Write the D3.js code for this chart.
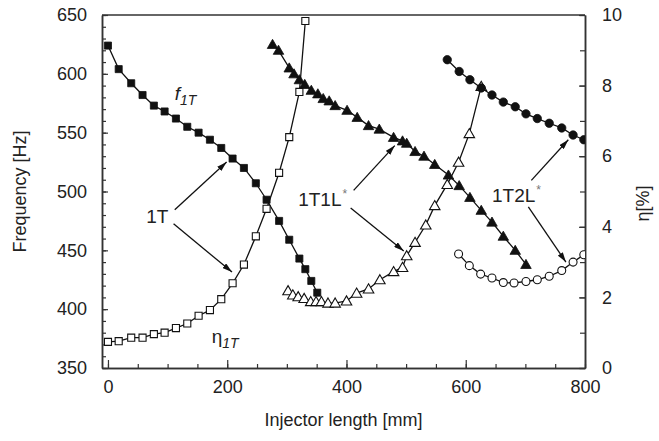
<!DOCTYPE html>
<meta charset="utf-8">
<style>
  body { margin: 0; background: #fff; }
  text { font-family: "Liberation Sans", Arial, sans-serif; fill: #222; }
</style>
<body>
<div id="my_dataviz"></div>
<script src="https://d3js.org/d3.v7.min.js"></script>
<script>

// 1T mode: frequency (filled squares) and eta (open squares)
var x1T   = [0, 18, 39, 58, 77, 95, 114, 133, 152, 171, 190, 209, 228, 248, 266, 287, 304, 321, 331, 341, 351];
var f1T   = [624, 604, 592, 582, 573, 568, 562, 555, 550, 544, 537, 528, 520, 507, 493, 475, 459, 443, 434, 424, 414];
var eta1T = [0.74, 0.76, 0.86, 0.86, 0.96, 1.0, 1.13, 1.26, 1.48, 1.64, 1.95, 2.4, 2.93, 3.73, 4.51, 5.53, 6.54, 7.82, 9.83];

// 1T1L* mode: frequency (filled triangles) and eta (open triangles)
var x1T1Lf  = [276, 286, 304, 312, 321, 330, 341, 352, 361, 371, 381, 401, 418, 437, 455, 479, 494, 501, 515, 530, 548, 571, 589, 607, 626, 644, 663, 683, 701];
var f1T1L   = [625, 620, 605, 600, 595, 591, 586, 583, 579, 577, 573, 569, 563, 556, 553, 546, 543, 541, 534, 530, 523, 514, 505, 495, 484, 474, 462, 450, 438];
var x1T1Le  = [302, 310, 319, 329, 340, 349, 358, 369, 381, 400, 417, 437, 456, 479, 494, 501, 515, 533, 548, 569, 588, 606, 626];
var eta1T1L = [2.19, 2.07, 2.02, 1.97, 1.88, 1.88, 1.88, 1.84, 1.84, 1.90, 2.12, 2.24, 2.50, 2.73, 2.85, 3.18, 3.56, 4.05, 4.60, 5.20, 5.83, 6.64, 7.98];

// 1T2L* mode: frequency (filled circles) and eta (open circles)
var x1T2Lf  = [569, 589, 607, 626, 644, 663, 683, 701, 720, 740, 761, 780, 798];
var f1T2L   = [612, 602, 595, 588, 582, 576, 572, 566, 562, 558, 554, 548, 544];
var x1T2Le  = [588, 606, 625, 644, 663, 681, 701, 720, 740, 761, 780, 798];
var eta1T2L = [3.23, 2.90, 2.66, 2.55, 2.42, 2.41, 2.45, 2.50, 2.60, 2.76, 3.00, 3.21];

// tick values
var xTicks = [0, 200, 400, 600, 800];
var fTicks = [350, 400, 450, 500, 550, 600, 650];
var eTicks = [0, 2, 4, 6, 8, 10];

// mode labels and arrows (in x / frequency units)
var modeLabels = [
  {text: "1T",   x: 64,  f: 473},
  {text: "1T1L", x: 319, f: 488, star: true},
  {text: "1T2L", x: 644, f: 491.5, star: true}
];
var arrows = [
  {x1: 112, f1: 484.5, x2: 199, f2: 525},
  {x1: 110, f1: 472.5, x2: 208, f2: 431.5},
  {x1: 412, f1: 501,   x2: 481, f2: 539},
  {x1: 407, f1: 486,   x2: 496, f2: 449.5},
  {x1: 710, f1: 509.5, x2: 772, f2: 544},
  {x1: 705, f1: 487,   x2: 768, f2: 440}
];

var margin = {top: 15, right: 74, bottom: 73, left: 102},
    width = 659 - margin.left - margin.right,
    height = 441 - margin.top - margin.bottom;

var svg = d3.select("#my_dataviz")
  .append("svg")
    .attr("width", 659)
    .attr("height", 441)
  .append("g")
    .attr("transform", "translate(" + margin.left + "," + margin.top + ")");

var x = d3.scaleLinear().domain([-10, 800]).range([0, width]);
var y = d3.scaleLinear().domain([350, 650]).range([height, 0]);
var y2 = d3.scaleLinear().domain([0, 10]).range([height, 0]);

svg.append("clipPath").attr("id", "clip")
  .append("rect").attr("width", width).attr("height", height);

// arrow head
svg.append("defs").append("marker")
    .attr("id", "head")
    .attr("viewBox", "0 0 10 6")
    .attr("refX", 10).attr("refY", 3)
    .attr("markerWidth", 10).attr("markerHeight", 6)
    .attr("markerUnits", "userSpaceOnUse")
    .attr("orient", "auto")
  .append("path")
    .attr("d", "M0,0L10,3L0,6Z")
    .attr("fill", "#111");

// axes, ticks pointing inward
function styleAxis(g) {
  g.select(".domain").attr("stroke", "#333").attr("stroke-width", 1.5);
  g.selectAll(".tick line").attr("stroke", "#333").attr("stroke-width", 1.2);
  g.selectAll("text").attr("font-size", 18).attr("fill", "#222")
    .attr("font-family", "'Liberation Sans', Arial, sans-serif");
}

// minor ticks first
svg.append("g")
  .attr("transform", "translate(0," + height + ")")
  .call(d3.axisBottom(x).tickValues(d3.range(0, 801, 50)).tickSizeInner(-4).tickSizeOuter(0).tickFormat(""))
  .call(styleAxis);
svg.append("g")
  .call(d3.axisLeft(y).tickValues(d3.range(350, 651, 10)).tickSizeInner(-4).tickSizeOuter(0).tickFormat(""))
  .call(styleAxis);
svg.append("g")
  .attr("transform", "translate(" + width + ",0)")
  .call(d3.axisRight(y2).tickValues(d3.range(0, 11, 1)).tickSizeInner(-5).tickSizeOuter(0).tickFormat(""))
  .call(styleAxis);

// major ticks with labels
svg.append("g")
  .attr("transform", "translate(0," + height + ")")
  .call(d3.axisBottom(x).tickValues(xTicks).tickSizeInner(-8).tickSizeOuter(0).tickPadding(12))
  .call(styleAxis);
svg.append("g")
  .call(d3.axisLeft(y).tickValues(fTicks).tickSizeInner(-6).tickSizeOuter(0).tickPadding(15))
  .call(styleAxis);
svg.append("g")
  .attr("transform", "translate(" + width + ",0)")
  .call(d3.axisRight(y2).tickValues(eTicks).tickSizeInner(-6).tickSizeOuter(0).tickPadding(17))
  .call(styleAxis);

// top frame line
svg.append("line")
  .attr("x1", 0).attr("x2", width).attr("y1", 0).attr("y2", 0)
  .attr("stroke", "#333").attr("stroke-width", 1.5);

// axis titles
svg.append("text")
  .attr("x", width / 2).attr("y", height + 58)
  .attr("text-anchor", "middle").attr("font-size", 18)
  .text("Injector length [mm]");
svg.append("text")
  .attr("transform", "translate(" + (-76) + "," + (height / 2) + ") rotate(-90)")
  .attr("text-anchor", "middle").attr("font-size", 18)
  .text("Frequency [Hz]");
svg.append("text")
  .attr("transform", "translate(" + (width + 64) + "," + (height / 2 + 12) + ") rotate(-90)")
  .attr("text-anchor", "middle").attr("font-size", 18)
  .text("η[%]");

var plot = svg.append("g").attr("clip-path", "url(#clip)");

function pairs(xs, ys) {
  return ys.map(function(v, i) { return [xs[i], v]; });
}

var series = [
  {data: pairs(x1T, f1T),       sc: y,  shape: d3.symbolSquare,   size: 50, filled: true},
  {data: pairs(x1T, eta1T),     sc: y2, shape: d3.symbolSquare,   size: 50, filled: false},
  {data: pairs(x1T1Lf, f1T1L),  sc: y,  shape: d3.symbolTriangle, size: 48, filled: true},
  {data: pairs(x1T1Le, eta1T1L),sc: y2, shape: d3.symbolTriangle, size: 48, filled: false},
  {data: pairs(x1T2Lf, f1T2L),  sc: y,  shape: d3.symbolCircle,   size: 55, filled: true},
  {data: pairs(x1T2Le, eta1T2L),sc: y2, shape: d3.symbolCircle,   size: 50, filled: false}
];

// lines
series.forEach(function(s) {
  plot.append("path")
    .datum(s.data)
    .attr("fill", "none")
    .attr("stroke", "#111")
    .attr("stroke-width", 1.3)
    .attr("d", d3.line()
      .x(function(d) { return x(d[0]); })
      .y(function(d) { return s.sc(d[1]); }));
});

// markers
series.forEach(function(s) {
  plot.selectAll(null)
    .data(s.data)
    .enter()
    .append("path")
      .attr("transform", function(d) {
        var dy = s.shape === d3.symbolTriangle ? 1 : 0;
        return "translate(" + x(d[0]) + "," + (s.sc(d[1]) + dy) + ")";
      })
      .attr("d", d3.symbol().type(s.shape).size(s.size))
      .attr("fill", s.filled ? "#111" : "#fff")
      .attr("stroke", "#111")
      .attr("stroke-width", s.filled ? 0.8 : 1.1);
});

// annotation arrows
svg.selectAll(".arrow")
  .data(arrows)
  .enter()
  .append("line")
    .attr("x1", function(d) { return x(d.x1); })
    .attr("y1", function(d) { return y(d.f1); })
    .attr("x2", function(d) { return x(d.x2); })
    .attr("y2", function(d) { return y(d.f2); })
    .attr("stroke", "#111")
    .attr("stroke-width", 1.3)
    .attr("marker-end", "url(#head)");

// mode labels
modeLabels.forEach(function(m) {
  var t = svg.append("text")
    .attr("x", x(m.x)).attr("y", y(m.f))
    .attr("font-size", 19)
    .attr("fill", "#333")
    .text(m.text);
  if (m.star) {
    t.append("tspan")
      .attr("dy", -8).attr("dx", 1)
      .attr("font-size", 12)
      .attr("fill", "#777")
      .text("*");
  }
});

// curve labels f1T and eta1T
var fl = svg.append("text")
  .attr("x", x(112)).attr("y", y(577.5))
  .attr("font-size", 19).attr("font-style", "italic")
  .text("f");
fl.append("tspan").attr("dy", 5).attr("font-size", 14).text("1T");

var el = svg.append("text")
  .attr("x", x(174)).attr("y", y(371))
  .attr("font-size", 19)
  .text("η");
el.append("tspan").attr("dy", 5).attr("font-size", 14).attr("font-style", "italic").text("1T");

</script>
</body>
